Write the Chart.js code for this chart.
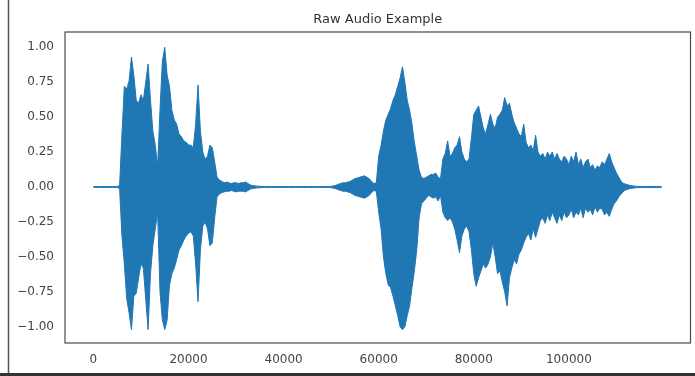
<!DOCTYPE html>
<html>
<head>
<meta charset="utf-8">
<title>Raw Audio Example</title>
<script src="https://cdn.jsdelivr.net/npm/chart.js@4.4.1/dist/chart.umd.min.js"></script>
<style>
  html, body { margin: 0; padding: 0; background: #fff; }
  #wrap { position: relative; width: 695px; height: 376px; }
</style>
</head>
<body>
<div id="wrap"><canvas id="audio" width="695" height="376"></canvas></div>
<script>
// Waveform envelope, one value every 500 samples
const TITLE = 'Raw Audio Example';
const SAMPLE_STEP = 500;
const N_SAMPLES = 119600;

// upper edge (max amplitude) per 500-sample block
const envTop = [
  .003, .003, .003, .003, .003, .003, .003, .003, .003, .003,
  .004, .01, .38, .72, .70, .76, .93, .80, .62, .60,
  .66, .62, .75, .88, .62, .40, .30, .15, .55, .90,
  1.00, .80, .72, .55, .48, .45, .38, .36, .33, .32,
  .30, .30, .28, .45, .73, .40, .25, .20, .22, .30,
  .28, .18, .07, .05, .04, .03, .035, .03, .025, .03,
  .03, .025, .03, .03, .035, .025, .015, .01, .008, .006,
  .005, .004, .003, .003, .003, .003, .003, .003, .003, .003,
  .003, .003, .003, .003, .003, .003, .003, .003, .003, .003,
  .003, .003, .003, .003, .003, .003, .003, .003, .003, .003,
  .005, .008, .012, .02, .025, .03, .03, .035, .04, .05,
  .06, .065, .07, .075, .08, .07, .06, .04, .025, .03,
  .22, .30, .40, .48, .52, .56, .62, .66, .72, .78,
  .86, .75, .62, .55, .45, .32, .22, .12, .07, .06,
  .07, .08, .09, .09, .10, .07, .06, .20, .24, .33,
  .22, .24, .28, .30, .36, .25, .20, .18, .20, .35,
  .52, .55, .58, .50, .42, .38, .45, .52, .45, .42,
  .50, .52, .55, .64, .58, .60, .52, .46, .42, .38,
  .36, .45, .32, .28, .30, .26, .37, .25, .22, .24,
  .20, .25, .22, .25, .20, .24, .20, .18, .22, .20,
  .16, .22, .18, .25, .16, .20, .14, .18, .20, .14,
  .16, .12, .15, .14, .18, .16, .20, .24, .18, .14,
  .10, .07, .04, .025, .02, .015, .01, .008, .006, .004,
  .004, .004, .004, .004, .004, .004, .004, .004, .004, .004
];

// lower edge (min amplitude) per 500-sample block
const envBottom = [
  -.003, -.003, -.003, -.003, -.003, -.003, -.003, -.003, -.003, -.003,
  -.004, -.01, -.35, -.55, -.80, -.90, -1.02, -.78, -.76, -.65,
  -.55, -.58, -.80, -1.02, -.62, -.42, -.30, -.18, -.75, -.95,
  -1.02, -.95, -.70, -.62, -.58, -.52, -.45, -.42, -.38, -.35,
  -.33, -.32, -.35, -.55, -.82, -.45, -.28, -.25, -.30, -.42,
  -.40, -.22, -.07, -.05, -.04, -.035, -.03, -.03, -.025, -.03,
  -.035, -.03, -.03, -.03, -.035, -.025, -.015, -.01, -.008, -.006,
  -.005, -.004, -.003, -.003, -.003, -.003, -.003, -.003, -.003, -.003,
  -.003, -.003, -.003, -.003, -.003, -.003, -.003, -.003, -.003, -.003,
  -.003, -.003, -.003, -.003, -.003, -.003, -.003, -.003, -.003, -.003,
  -.005, -.008, -.012, -.02, -.025, -.03, -.03, -.035, -.04, -.05,
  -.06, -.065, -.07, -.075, -.08, -.07, -.06, -.04, -.025, -.03,
  -.18, -.30, -.50, -.62, -.70, -.72, -.78, -.85, -.92, -1.0,
  -1.02, -1.0, -.92, -.85, -.72, -.60, -.45, -.22, -.12, -.10,
  -.08, -.06, -.07, -.08, -.07, -.10, -.06, -.18, -.22, -.24,
  -.22, -.25, -.30, -.38, -.47, -.35, -.30, -.28, -.32, -.45,
  -.62, -.71, -.65, -.60, -.55, -.58, -.55, -.50, -.40, -.50,
  -.62, -.60, -.68, -.75, -.85, -.65, -.58, -.52, -.55, -.48,
  -.45, -.40, -.36, -.33, -.38, -.30, -.36, -.30, -.24, -.22,
  -.26, -.20, -.24, -.18, -.22, -.26, -.20, -.24, -.18, -.22,
  -.20, -.16, -.22, -.18, -.20, -.15, -.22, -.15, -.18, -.16,
  -.20, -.14, -.18, -.15, -.16, -.20, -.18, -.21, -.16, -.12,
  -.10, -.07, -.05, -.03, -.02, -.015, -.01, -.008, -.006, -.004,
  -.004, -.004, -.004, -.004, -.004, -.004, -.004, -.004, -.004, -.004
];

// Tick values and labels
const xTicks = [0, 20000, 40000, 60000, 80000, 100000];
const xTickLabels = ['0', '20000', '40000', '60000', '80000', '100000'];
const yTicks = [-1, -0.75, -0.5, -0.25, 0, 0.25, 0.5, 0.75, 1];
const yTickLabels = ['\u22121.00', '\u22120.75', '\u22120.50', '\u22120.25', '0.00', '0.25', '0.50', '0.75', '1.00'];

const WAVE_COLOR = '#1f77b4';
const TEXT_COLOR = '#444';
const FONT = { family: '"DejaVu Sans", sans-serif', size: 12 };

const toPoints = arr => arr.map((v, i) => ({ x: i * SAMPLE_STEP, y: v }));

// axes frame, title over the axes and the outer screenshot border
const framePlugin = {
  id: 'frame',
  afterDraw(chart) {
    const { ctx, chartArea: a } = chart;
    ctx.save();
    ctx.strokeStyle = '#4a4a4a';
    ctx.lineWidth = 1.2;
    ctx.strokeRect(a.left, a.top, a.right - a.left, a.bottom - a.top);

    ctx.fillStyle = '#333';
    ctx.font = '13px "DejaVu Sans", sans-serif';
    ctx.textAlign = 'center';
    ctx.textBaseline = 'middle';
    ctx.fillText(TITLE, (a.left + a.right) / 2, 19.5);

    ctx.strokeStyle = '#555';
    ctx.lineWidth = 1.5;
    ctx.beginPath();
    ctx.moveTo(8.5, 0);
    ctx.lineTo(8.5, 374);
    ctx.stroke();
    ctx.strokeStyle = '#333';
    ctx.lineWidth = 3;
    ctx.beginPath();
    ctx.moveTo(0, 374.5);
    ctx.lineTo(695, 374.5);
    ctx.stroke();
    ctx.restore();
  }
};

const chart = new Chart(document.getElementById('audio'), {
  type: 'line',
  data: {
    datasets: [
      {
        data: toPoints(envTop),
        borderColor: WAVE_COLOR,
        backgroundColor: WAVE_COLOR,
        borderWidth: 1,
        pointRadius: 0,
        tension: 0,
        fill: false
      },
      {
        data: toPoints(envBottom),
        borderColor: WAVE_COLOR,
        backgroundColor: WAVE_COLOR,
        borderWidth: 1,
        pointRadius: 0,
        tension: 0,
        fill: '-1'
      }
    ]
  },
  options: {
    responsive: false,
    animation: false,
    devicePixelRatio: 1,
    events: [],
    layout: { padding: { top: 32, right: 4.5, left: 0, bottom: 0 } },
    plugins: {
      legend: { display: false },
      title: { display: false },
      tooltip: { enabled: false }
    },
    scales: {
      x: {
        type: 'linear',
        min: -0.05 * N_SAMPLES,
        max: 1.05 * N_SAMPLES,
        grid: { display: false, drawTicks: false },
        border: { display: false },
        afterBuildTicks: scale => { scale.ticks = xTicks.map(v => ({ value: v })); },
        afterFit: scale => { scale.height = 33; },
        ticks: {
          autoSkip: false,
          maxRotation: 0,
          padding: 10,
          color: TEXT_COLOR,
          font: FONT,
          callback: v => xTickLabels[xTicks.indexOf(v)]
        }
      },
      y: {
        type: 'linear',
        min: -1.116,
        max: 1.109,
        grid: { display: false, drawTicks: false },
        border: { display: false },
        afterBuildTicks: scale => { scale.ticks = yTicks.map(v => ({ value: v })); },
        afterFit: scale => { scale.width = 65; },
        ticks: {
          autoSkip: false,
          padding: 11,
          color: TEXT_COLOR,
          font: FONT,
          callback: v => yTickLabels[yTicks.indexOf(v)]
        }
      }
    }
  },
  plugins: [framePlugin]
});
</script>
</body>
</html>
